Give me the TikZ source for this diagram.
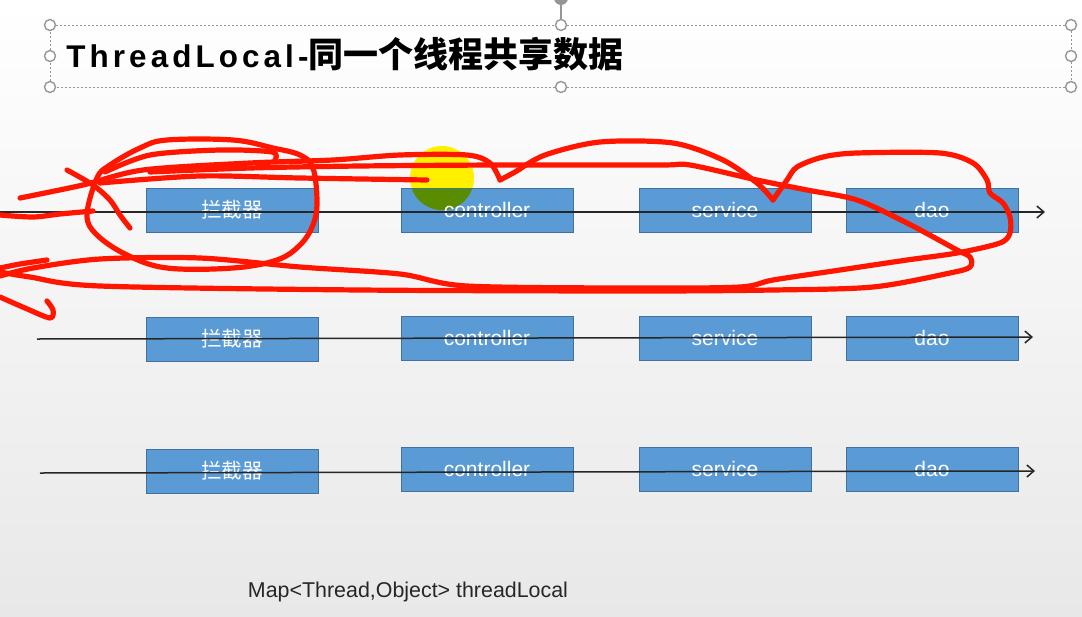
\documentclass[tikz,border=0pt]{standalone}
\usepackage{fontspec}
\setmainfont{Liberation Sans}
\newfontfamily\cjk{Noto Sans CJK SC}
\usepackage{tikz}
\usetikzlibrary{arrows.meta}

\definecolor{boxblue}{RGB}{91,155,213}
\definecolor{boxline}{RGB}{65,113,156}
\definecolor{pen}{RGB}{255,22,0}
\definecolor{hlyellow}{RGB}{255,240,0}
\definecolor{hlgreen}{RGB}{90,140,0}
\definecolor{gripgray}{RGB}{150,150,150}

\tikzset{
  stage/.style={draw=boxline, line width=0.5pt, fill=boxblue, text=white, minimum width=86pt, minimum height=22pt, inner sep=0pt, font=\fontsize{10.5}{12}\selectfont},
  flow/.style={line width=0.75pt, draw=black!85, -{Straight Barb[length=3.5pt,width=6pt]}},
  scribble/.style={draw=pen, line width=2.6pt, line cap=round, line join=round},
  grip/.style={circle, draw=gripgray, fill=white, line width=0.7pt, minimum size=5.5pt, inner sep=0pt},
  frame/.style={draw=gripgray, line width=0.5pt, dash pattern=on 1pt off 1pt}
}

\begin{document}
\begin{tikzpicture}[x=0.5pt,y=0.5pt,yscale=-1]
\useasboundingbox (0,0) rectangle (1082,616);
%background
\fill[top color=white, bottom color=black!9] (0,0) rectangle (1082,616);

%selection frame round the title
\node[grip] (g-nw) at (50,25) {};
\node[grip] (g-n) at (561,25) {};
\node[grip] (g-ne) at (1071,25) {};
\node[grip] (g-w) at (50,56) {};
\node[grip] (g-e) at (1071,56) {};
\node[grip] (g-sw) at (50,87) {};
\node[grip] (g-s) at (561,87) {};
\node[grip] (g-se) at (1071,87) {};
\node[circle, fill=gripgray, minimum size=7pt, inner sep=0pt] (rot) at (561,-2) {};
\draw[frame] (g-nw) -- (g-n);
\draw[frame] (g-n) -- (g-ne);
\draw[frame] (g-ne) -- (g-e);
\draw[frame] (g-e) -- (g-se);
\draw[frame] (g-se) -- (g-s);
\draw[frame] (g-s) -- (g-sw);
\draw[frame] (g-sw) -- (g-w);
\draw[frame] (g-w) -- (g-nw);
\draw[gripgray, line width=0.7pt] (rot) -- (g-n);

% Text Node
\node[anchor=base west, inner sep=0pt] (title) at (66,67) {{\fontsize{15.7}{18}\selectfont\bfseries\addfontfeature{LetterSpace=13}ThreadLocal-}{\cjk\fontsize{17.5}{20}\selectfont\bfseries 同一个线程共享数据}};

%highlight dot (yellow part)
\fill[hlyellow] (442,178) circle[radius=16pt];

%row 1
\node[stage] (lj1) at (232,210) {\cjk\fontsize{10.3}{12}\selectfont 拦截器};
\node[stage, path picture={\fill[hlgreen] ([xshift=-22.5pt,yshift=16pt]path picture bounding box.center) circle[radius=16pt];}] (ctrl1) at (487,210) {controller};
\node[stage] (svc1) at (725,210) {service};
\node[stage] (dao1) at (932,210) {dao};
%row 2
\node[stage] (lj2) at (232,339) {\cjk\fontsize{10.3}{12}\selectfont 拦截器};
\node[stage] (ctrl2) at (487,338) {controller};
\node[stage] (svc2) at (725,338) {service};
\node[stage] (dao2) at (932,338) {dao};
%row 3
\node[stage] (lj3) at (232,471) {\cjk\fontsize{10.3}{12}\selectfont 拦截器};
\node[stage] (ctrl3) at (487,469) {controller};
\node[stage] (svc3) at (725,469) {service};
\node[stage] (dao3) at (932,469) {dao};

%threads
\coordinate (s1) at (0,212);
\coordinate (e1) at (1045,212);
\coordinate (s2) at (37,339);
\coordinate (e2) at (1033,337);
\coordinate (s3) at (40,473);
\coordinate (e3) at (1035,471);
\draw[flow] (s1) -- (e1);
\draw[flow] (s2) -- (e2);
\draw[flow] (s3) -- (e3);

% Text Node
\node[text=black!85, font=\fontsize{10.7}{12}\selectfont] (maptext) at (408,592) {Map<Thread,Object> threadLocal};

%red pen marks
\draw[scribble] plot[smooth cycle, tension=0.6] coordinates {(87,215) (97,178) (110,165) (140,148) (167,140) (233,140) (273,148) (300,155) (313,168) (317,202) (313,225) (300,245) (277,260) (233,268) (167,268) (127,255) (97,235)};
\draw[scribble] plot[smooth, tension=0.5] coordinates {(20,198) (83,185) (143,170) (250,163) (333,160) (400,155) (467,155) (490,163) (500,180)};
\draw[scribble] plot[smooth, tension=0.5] coordinates {(500,180) (515,172) (545,155) (600,142) (673,143) (723,160) (757,183) (773,200)};
\draw[scribble] plot[smooth, tension=0.5] coordinates {(773,200) (787,180) (797,167) (823,157) (857,153) (940,153) (973,163) (987,180) (990,193) (1003,203) (1010,217) (1010,233) (1000,243) (957,253) (907,260) (840,270) (773,280) (740,287) (640,288) (467,286) (400,274) (300,267) (200,258) (100,259) (33,268) (0,276)};
\draw[scribble] plot[smooth, tension=0.5] coordinates {(150,172) (250,168) (360,166) (500,165) (660,165) (690,165) (757,180) (807,190) (857,200) (907,223) (957,250) (970,257) (970,267) (950,273) (873,287) (773,290) (640,291) (360,290) (100,286) (30,277) (0,272)};
\draw[scribble] plot[smooth, tension=0.5] coordinates {(100,183) (200,176) (300,178) (427,180)};
\draw[scribble] plot[smooth, tension=0.5] coordinates {(105,172) (150,155) (220,150) (272,152) (275,160)};
\draw[scribble] plot[smooth, tension=0.5] coordinates {(67,170) (93,185) (110,200) (120,215) (130,228)};
\draw[scribble] plot[smooth, tension=0.5] coordinates {(0,215) (33,217) (60,214) (93,211)};
\draw[scribble] plot[smooth, tension=0.5] coordinates {(47,260) (20,264) (0,268)};
\draw[scribble] plot[smooth, tension=0.5] coordinates {(0,297) (25,308) (50,318) (53,310) (47,301)};
\end{tikzpicture}
\end{document}
